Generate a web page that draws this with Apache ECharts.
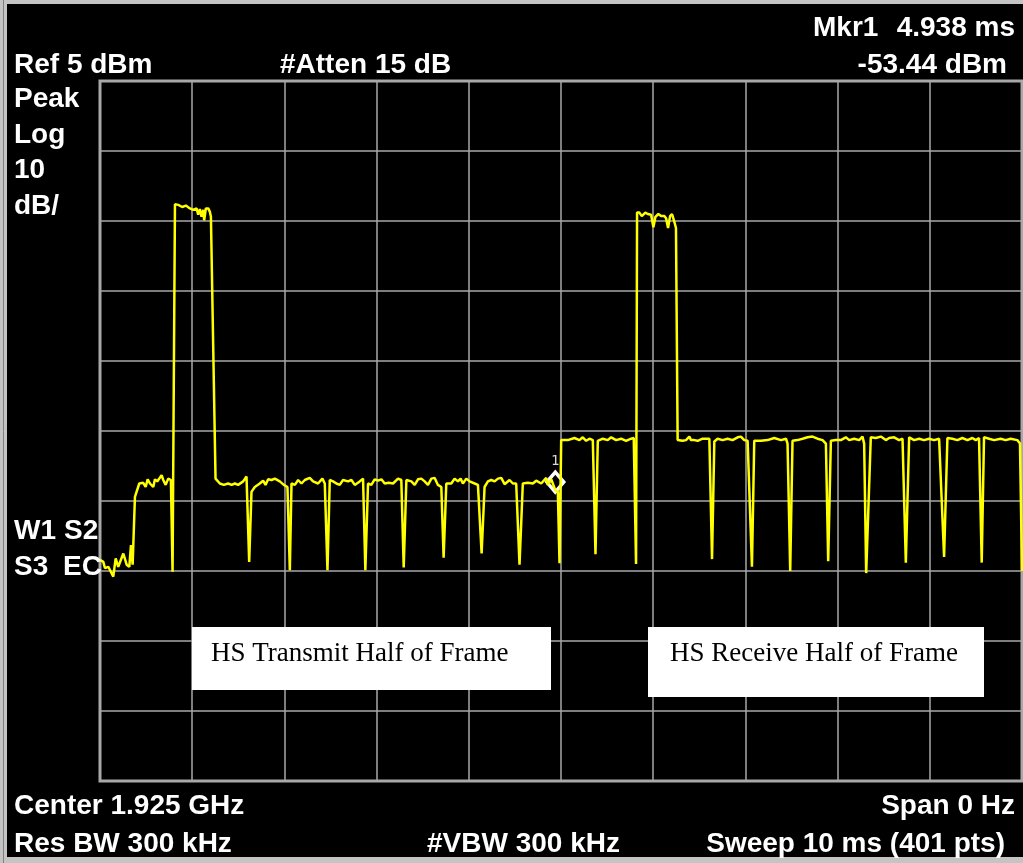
<!DOCTYPE html>
<html>
<head>
<meta charset="utf-8">
<title>HS frame - zero span</title>
<script src="https://cdn.jsdelivr.net/npm/echarts@6/dist/echarts.min.js"></script>
<style>
html, body { margin: 0; padding: 0; background: #000; }
#chart { width: 1023px; height: 863px; }
</style>
</head>
<body>
<div id="chart"></div>
<script>
// trace: [time ms, level dBm], one array per stretch of the sweep
const preBurst = [
  [0, -63.4], [0.036, -63.7], [0.054, -64.6], [0.09, -64.4], [0.144, -65.8], [0.17, -63.2],
  [0.198, -64.4], [0.253, -62.5], [0.289, -64.1], [0.318, -64.4], [0.336, -61.3], [0.354, -64.1],
  [0.379, -54.4], [0.426, -52.5], [0.469, -52.4], [0.495, -53.0], [0.517, -51.9], [0.542, -52.5],
  [0.578, -53.0], [0.596, -51.9], [0.621, -52.2], [0.643, -51.8], [0.668, -51.3], [0.686, -52.0],
  [0.712, -52.7], [0.740, -51.8], [0.769, -52.0], [0.787, -65.1]
];
const txBurst = [
  [0.813, -12.6], [0.849, -12.7], [0.892, -13.0], [0.932, -12.8], [0.975, -13.2], [1.011, -13.4],
  [1.047, -13.2], [1.065, -14.1], [1.083, -13.3], [1.101, -14.4], [1.12, -13.4], [1.13, -14.9],
  [1.148, -13.2], [1.174, -13.2], [1.192, -13.7], [1.203, -14.4]
];
const txHalf = [
  [1.253, -51.8], [1.30, -52.5], [1.343, -52.7], [1.39, -52.5], [1.427, -52.7], [1.463, -52.5],
  [1.498, -52.7], [1.553, -52.2], [1.589, -51.5], [1.618, -63.7], [1.643, -53.7], [1.679, -53.0],
  [1.733, -52.5], [1.769, -52.1], [1.795, -52.7], [1.824, -51.9], [1.86, -52.0], [1.896, -51.8],
  [1.95, -52.2], [1.994, -52.7], [2.033, -53.0], [2.059, -64.9], [2.077, -52.5], [2.113, -52.7],
  [2.149, -52.0], [2.185, -52.5], [2.221, -52.0], [2.275, -51.7], [2.311, -52.2], [2.365, -52.5],
  [2.412, -51.8], [2.438, -52.5], [2.467, -64.9], [2.492, -52.0], [2.528, -52.2], [2.564, -52.5],
  [2.60, -52.7], [2.636, -52.0], [2.69, -52.2], [2.727, -52.0], [2.763, -52.7], [2.817, -52.2],
  [2.853, -51.8], [2.878, -64.9], [2.907, -52.5], [2.943, -52.7], [2.979, -51.9], [3.015, -52.1],
  [3.052, -51.9], [3.088, -52.5], [3.13, -52.4], [3.178, -52.5], [3.232, -51.8], [3.268, -52.0],
  [3.294, -64.5], [3.323, -52.0], [3.377, -52.2], [3.413, -52.7], [3.449, -51.9], [3.485, -51.8],
  [3.521, -52.2], [3.557, -52.7], [3.594, -51.8], [3.63, -51.7], [3.665, -52.7], [3.702, -53.0],
  [3.727, -63.1], [3.756, -52.5], [3.81, -52.5], [3.846, -51.8], [3.882, -52.2], [3.911, -51.8],
  [3.936, -52.5], [3.973, -51.8], [4.009, -52.2], [4.063, -52.5], [4.099, -52.7], [4.139, -62.5],
  [4.171, -53.0], [4.207, -52.2], [4.244, -52.0], [4.28, -52.2], [4.316, -51.8], [4.352, -51.7],
  [4.388, -52.6], [4.442, -52.0], [4.478, -52.5], [4.514, -52.5], [4.55, -64.1], [4.586, -52.5],
  [4.64, -52.4], [4.695, -52.5], [4.731, -52.1], [4.785, -52.5], [4.84, -51.7], [4.857, -52.7],
  [4.894, -51.9], [4.938, -53.44], [4.966, -53.7], [4.984, -63.9]
];
const rxLead = [
  [5.002, -46.3], [5.074, -46.3], [5.146, -46.0], [5.2, -46.3], [5.236, -45.9], [5.273, -46.4],
  [5.309, -46.1], [5.345, -46.3], [5.374, -62.6], [5.399, -46.4], [5.453, -46.1], [5.507, -46.3],
  [5.544, -45.9], [5.598, -46.3], [5.652, -46.1], [5.706, -46.4], [5.76, -46.1], [5.789, -46.0],
  [5.814, -64.0]
];
const rxBurst = [
  [5.825, -13.8], [5.85, -13.8], [5.876, -14.3], [5.915, -13.8], [5.941, -14.0], [5.959, -13.8],
  [5.977, -14.1], [6.002, -15.9], [6.024, -14.4], [6.056, -14.0], [6.085, -14.3], [6.121, -14.3],
  [6.14, -14.6], [6.161, -16.0], [6.183, -14.3], [6.204, -14.0], [6.229, -15.1], [6.247, -16.0]
];
const rxHalf = [
  [6.265, -46.3], [6.319, -46.4], [6.356, -46.3], [6.392, -45.8], [6.41, -46.3], [6.446, -46.3],
  [6.482, -46.4], [6.536, -46.1], [6.609, -46.1], [6.638, -63.3], [6.663, -46.5], [6.699, -46.1],
  [6.753, -46.3], [6.807, -46.1], [6.861, -46.3], [6.916, -45.9], [6.951, -45.8], [6.988, -46.3],
  [7.024, -46.4], [7.071, -64.4], [7.096, -46.4], [7.169, -46.4], [7.24, -46.3], [7.313, -46.0],
  [7.386, -46.3], [7.44, -46.1], [7.457, -46.8], [7.486, -65.0], [7.511, -46.4], [7.565, -46.3],
  [7.62, -46.1], [7.674, -45.9], [7.728, -45.8], [7.782, -46.1], [7.837, -46.3], [7.873, -46.8],
  [7.898, -63.6], [7.927, -46.4], [7.981, -46.3], [8.035, -46.3], [8.089, -45.9], [8.126, -46.3],
  [8.18, -46.1], [8.234, -46.3], [8.27, -45.8], [8.288, -46.8], [8.31, -65.3], [8.36, -45.9],
  [8.414, -46.0], [8.469, -45.8], [8.523, -46.3], [8.559, -46.0], [8.613, -45.9], [8.667, -46.3],
  [8.704, -46.1], [8.74, -63.8], [8.776, -45.9], [8.83, -46.3], [8.884, -46.1], [8.938, -46.3],
  [8.992, -46.1], [9.046, -46.3], [9.101, -46.1], [9.155, -63.0], [9.191, -46.0], [9.245, -46.1],
  [9.299, -46.3], [9.353, -46.0], [9.408, -46.3], [9.462, -46.0], [9.498, -46.3], [9.534, -46.0],
  [9.563, -63.8], [9.588, -45.9], [9.643, -46.1], [9.697, -46.3], [9.769, -46.1], [9.823, -46.3],
  [9.877, -46.1], [9.949, -46.3], [9.978, -46.8], [10, -65.0]
];
const marker1 = [4.938, -53.44];

const refLevel = 5;       // dBm, top of screen
const dbPerDiv = 10;
const sweepMs = 10;

const trace = [].concat(preBurst, txBurst, txHalf, rxLead, rxBurst, rxHalf);

const bold = '700 28px "Liberation Sans", Arial, sans-serif';
const serif = '27px "Liberation Serif", "Times New Roman", serif';

// annotation text, baseline positions taken from the screen
function label(text, x, baseline, align) {
  return {
    type: 'text', x: x, y: baseline - 7, z: 50,
    style: { text: text, font: bold, fill: '#fff', align: align || 'left', verticalAlign: 'middle' }
  };
}

const chart = echarts.init(document.getElementById('chart'));
chart.setOption({
  backgroundColor: '#000',
  animation: false,
  grid: {
    left: 100, top: 81, right: 1, bottom: 82,
    show: true, borderColor: '#a8a8a8', borderWidth: 3
  },
  xAxis: {
    type: 'value', min: 0, max: sweepMs, interval: 1,
    axisLine: { show: false }, axisTick: { show: false }, axisLabel: { show: false },
    splitLine: { show: true, lineStyle: { color: '#a8a8a8', width: 1.5 } }
  },
  yAxis: [
    {
      type: 'value', min: refLevel - 10 * dbPerDiv, max: refLevel,
      axisLine: { show: false }, axisTick: { show: false }, axisLabel: { show: false },
      splitLine: { show: false }
    },
    {
      // divisions only, for the graticule
      type: 'value', min: 0, max: 10, interval: 1,
      axisLine: { show: false }, axisTick: { show: false }, axisLabel: { show: false },
      splitLine: { show: true, lineStyle: { color: '#a8a8a8', width: 1.5 } }
    }
  ],
  series: [{
    type: 'line',
    yAxisIndex: 0,
    data: trace,
    showSymbol: false,
    lineStyle: { color: '#ffff00', width: 2.5 },
    z: 10,
    markPoint: {
      symbol: 'diamond',
      symbolSize: [17, 20],
      symbolOffset: [0, -8],
      itemStyle: { color: 'rgba(0,0,0,0)', borderColor: '#fff', borderWidth: 3.5 },
      label: {
        show: true, position: 'top', distance: 2, formatter: '1',
        color: '#d8d8d8', fontFamily: 'DejaVu Sans Mono', fontSize: 14
      },
      data: [{ coord: marker1 }]
    }
  }],
  graphic: [
    // outer bezel
    { type: 'rect', shape: { x: 0, y: 0, width: 1023, height: 4 }, style: { fill: '#c4c4c4' } },
    { type: 'rect', shape: { x: 0, y: 857, width: 1023, height: 6 }, style: { fill: '#c4c4c4' } },
    { type: 'rect', shape: { x: 0, y: 0, width: 7, height: 863 }, style: { fill: '#c4c4c4' } },
    { type: 'line', shape: { x1: 3.5, y1: 0, x2: 3.5, y2: 863 }, style: { stroke: '#808080', lineWidth: 1 } },

    label('Mkr1', 813, 35),
    label('4.938 ms', 1015, 35, 'right'),
    label('Ref 5 dBm', 14, 72),
    label('#Atten 15 dB', 280, 72),
    label('-53.44 dBm', 1007, 72, 'right'),
    label('Peak', 14, 106),
    label('Log', 14, 142),
    label('10', 14, 177),
    label('dB/', 14, 213),
    label('W1', 14, 538),
    label('S2', 64, 538),
    label('S3', 14, 574),
    label('EC', 63, 574),
    label('Center 1.925 GHz', 14, 813),
    label('Span 0 Hz', 1015, 813, 'right'),
    label('Res BW 300 kHz', 14, 851),
    label('#VBW 300 kHz', 427, 851),
    label('Sweep 10 ms (401 pts)', 1005, 851, 'right'),

    // pasted captions
    { type: 'rect', z: 60, shape: { x: 192, y: 627, width: 359, height: 63 }, style: { fill: '#fff' } },
    { type: 'text', z: 61, x: 211, y: 654,
      style: { text: 'HS Transmit Half of Frame', font: serif, fill: '#000', verticalAlign: 'middle' } },
    { type: 'rect', z: 60, shape: { x: 648, y: 627, width: 336, height: 70 }, style: { fill: '#fff' } },
    { type: 'text', z: 61, x: 670, y: 654,
      style: { text: 'HS Receive Half of Frame', font: serif, fill: '#000', verticalAlign: 'middle' } }
  ]
});
</script>
</body>
</html>
